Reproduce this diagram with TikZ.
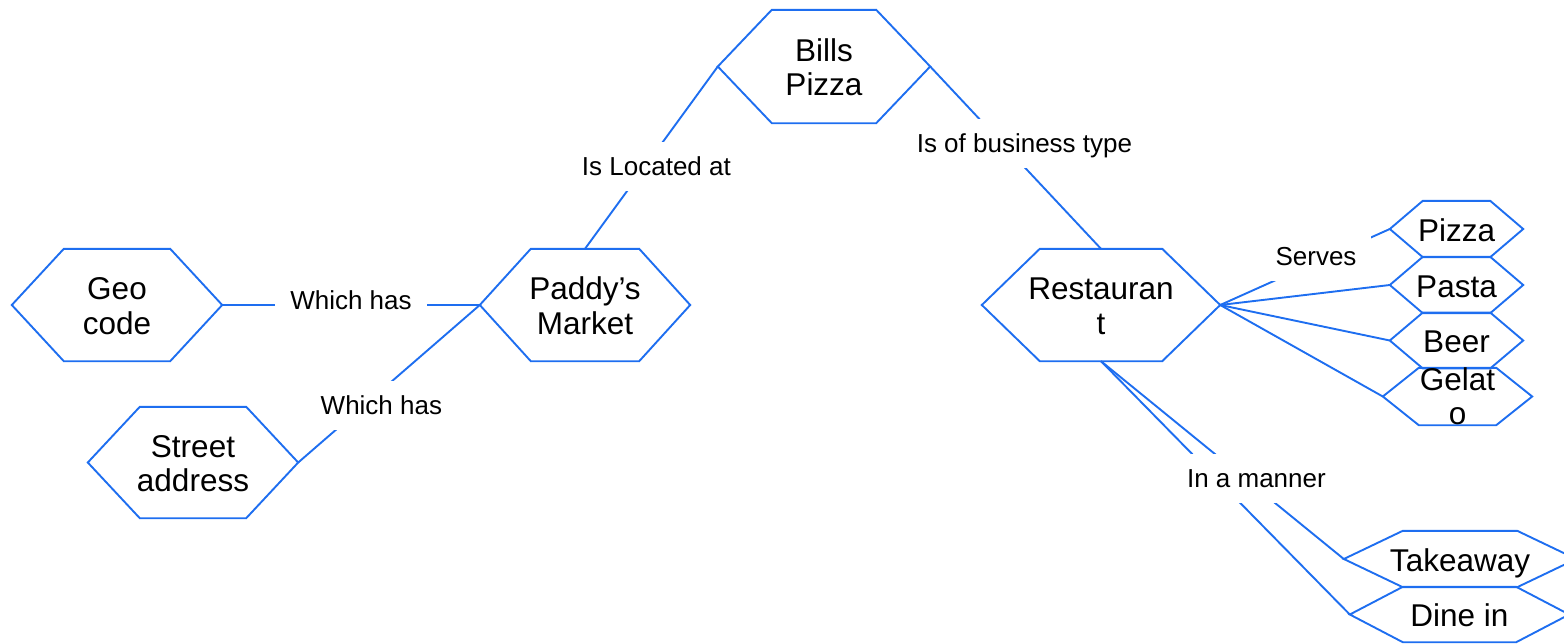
\documentclass[tikz,border=0pt]{standalone}
\usepackage{fontspec}
\setmainfont{Liberation Sans}
\usetikzlibrary{calc}
\definecolor{hexblue}{RGB}{30,110,240}
\newcommand\hexfont{\fontsize{31.5}{34.5}\selectfont}
\newcommand\lblfont{\fontsize{26}{30}\selectfont}
\newcommand\hxs{\rule{0pt}{31pt}}
\tikzset{
  hexline/.style={draw=hexblue, line width=1.9pt, line join=miter},
  conn/.style={draw=hexblue, line width=1.9pt},
  hexnode/.style n args={3}{rectangle, draw=none, inner sep=0pt,
    minimum width=#1, minimum height=#2, align=center, font=\hexfont,
    execute at end node={\rule[-7pt]{0pt}{7pt}},
    append after command={\pgfextra{\draw[hexline]
      ($(\tikzlastnode.north west)+(#3,0)$) -- ($(\tikzlastnode.north east)+(-#3,0)$) --
      (\tikzlastnode.east) -- ($(\tikzlastnode.south east)+(-#3,0)$) --
      ($(\tikzlastnode.south west)+(#3,0)$) -- (\tikzlastnode.west) -- cycle;}}},
  lbl/.style={fill=white, inner xsep=15pt, inner ysep=0pt, minimum height=49pt,
    text height=24pt, text depth=6pt, font=\lblfont}
}
\begin{document}
\begin{tikzpicture}[x=1pt, y=-1pt]
\useasboundingbox (0,0) rectangle (1564,643);
% hexagon nodes
\node[hexnode={212pt}{113pt}{54}] (bp) at (824,66.5) {\hxs Bills\\Pizza};
\node[hexnode={210pt}{112pt}{51}] (pm) at (585,305) {\hxs Paddy’s\\Market};
\node[hexnode={210pt}{112pt}{52}] (gc) at (117,305) {\hxs Geo\\code};
\node[hexnode={210pt}{111pt}{52}] (sa) at (193,462.5) {\hxs Street\\address};
\node[hexnode={238pt}{112pt}{58}] (rs) at (1101,305) {\hxs Restauran\\t};
\node[hexnode={133pt}{56pt}{33}] (pz) at (1456.5,229) {\hxs Pizza};
\node[hexnode={133pt}{56pt}{33}] (pa) at (1456.5,285) {\hxs Pasta};
\node[hexnode={133pt}{55.5pt}{33}] (be) at (1456.5,340.5) {\hxs Beer};
\node[hexnode={149pt}{57pt}{36}] (ge) at (1457.5,396.5)
  {\hxs\raisebox{18.5pt}[0pt][0pt]{\begin{tabular}[t]{@{}c@{}}Gelat\\o\end{tabular}}};
\node[hexnode={232pt}{56pt}{59}] (ta) at (1460,559) {\hxs Takeaway};
\node[hexnode={219pt}{55pt}{53}] (di) at (1459.5,614.5) {\hxs Dine in};
% connectors
\draw[conn] (bp.west) -- node[lbl, pos=0.548, xshift=11.4pt] {Is Located at} (pm.north);
\draw[conn] (bp.east) -- node[lbl, pos=0.4247, xshift=21.7pt] {Is of business type} (rs.north);
\draw[conn] (gc.east) -- node[lbl, yshift=5pt] {Which has} (pm.west);
\draw[conn] (pm.west) -- node[lbl, pos=0.641, xshift=18pt] {Which has} (sa.east);
\draw[conn] (rs.east) -- node[lbl, pos=0.565, yshift=5.1pt] {Serves} (pz.west);
\draw[conn] (rs.east) -- (pa.west);
\draw[conn] (rs.east) -- (be.west);
\draw[conn] (rs.east) -- (ge.west);
\draw[conn] (rs.south) -- (ta.west);
\draw[conn] (rs.south) -- node[lbl, pos=0.4627, xshift=40.3pt] {In a manner} (di.west);
\end{tikzpicture}
\end{document}
